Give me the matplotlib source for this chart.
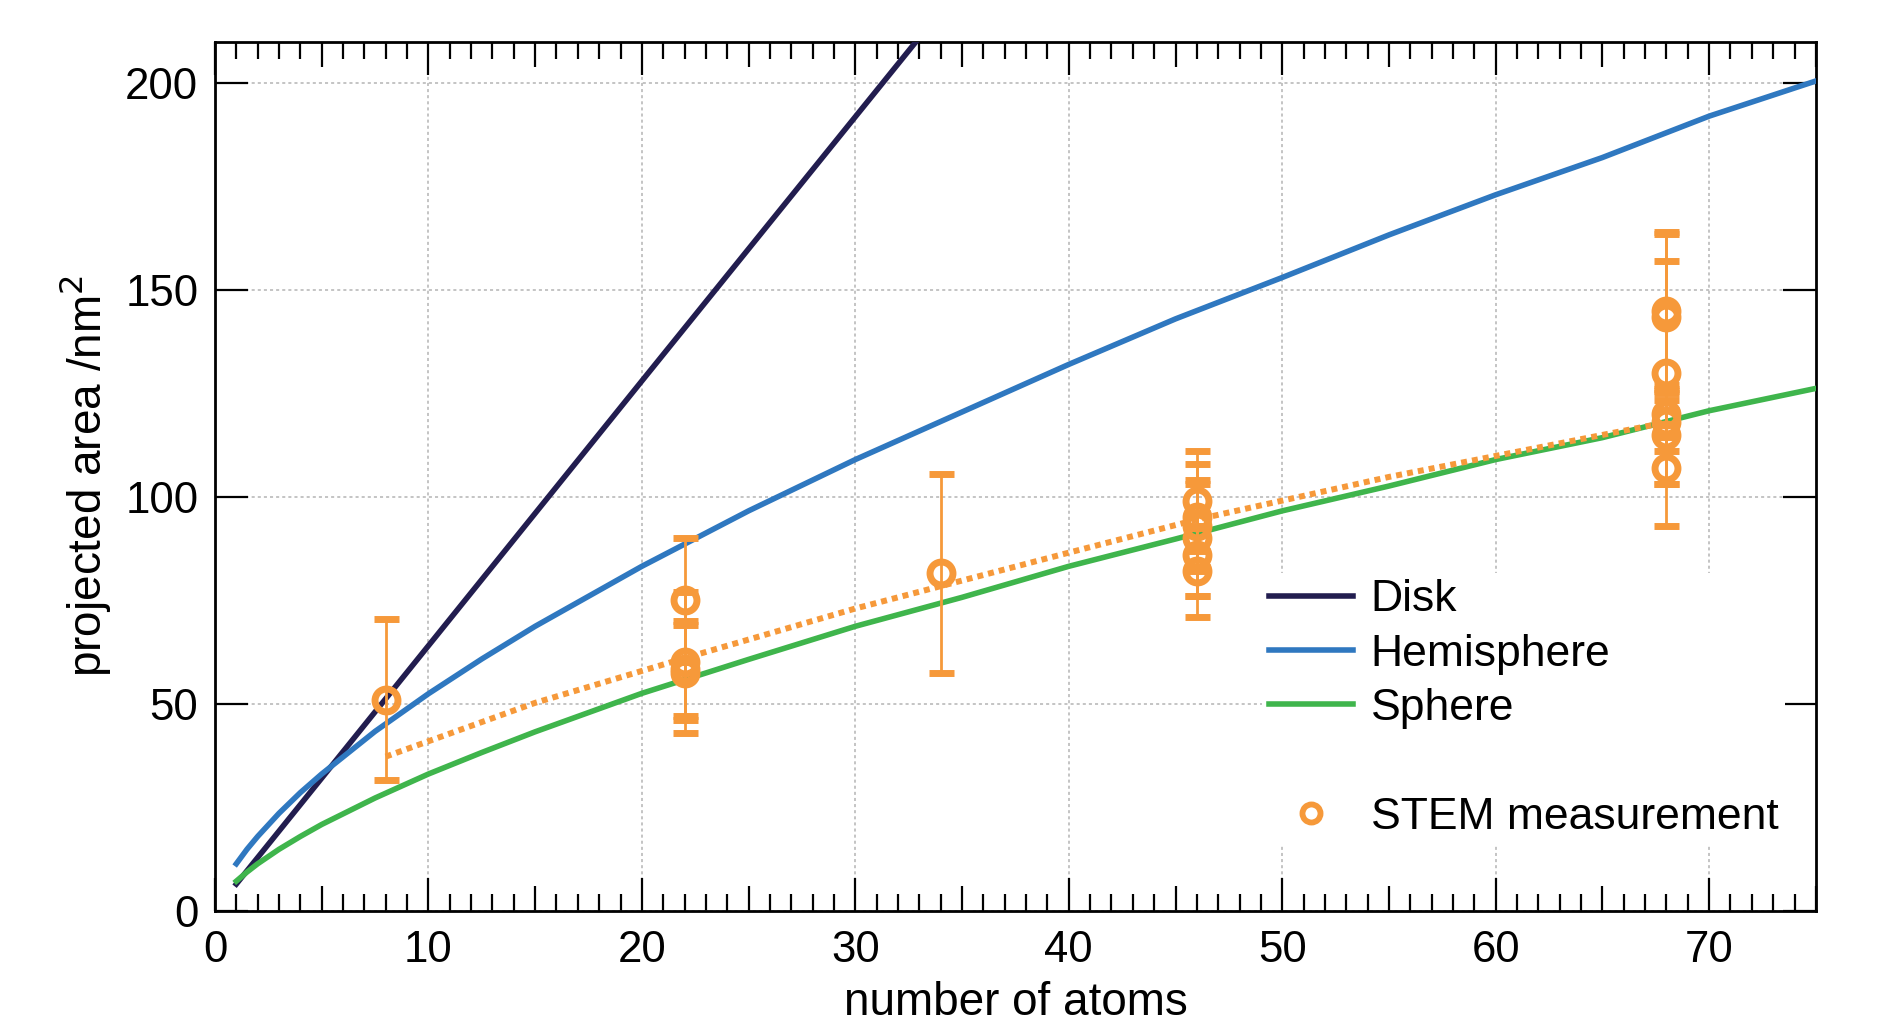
import matplotlib
matplotlib.use("Agg")
import matplotlib.pyplot as plt
from matplotlib.lines import Line2D
from matplotlib.ticker import MultipleLocator, FixedLocator

plt.rcParams['font.family'] = ['Liberation Sans', 'DejaVu Sans']

# colours
c_disk = '#221d4f'
c_hemi = '#2f78c0'
c_sphere = '#3fb54c'
c_stem = '#f6993a'

# model curves
n_disk = [1, 10, 20, 33]
a_disk = [6.4, 64, 128, 211]

n_model = [1, 1.5, 2, 3, 4, 5, 7.5, 10, 12.5, 15, 20, 25, 30, 35, 40, 45,
           50, 55, 60, 65, 70, 75]
a_hemi = [11.3, 14.8, 17.9, 23.5, 28.5, 33.0, 43.3, 52.4, 60.8, 68.7, 83.2,
          96.6, 109, 120.5, 132, 143, 153, 163.3, 173, 182, 192, 200.5]
a_sphere = [7.1, 9.3, 11.3, 14.8, 17.9, 20.8, 27.2, 33.0, 38.2, 43.2, 52.5,
            60.7, 68.7, 75.7, 83.2, 89.8, 96.6, 102.6, 109, 114.3, 120.8, 126.2]

# dotted fit through the measurements
n_fit = [8, 15, 22, 30, 40, 46, 55, 68]
a_fit = [37.2, 50.2, 61, 73, 86.5, 94.5, 104.8, 118]

# STEM measurements
n_stem = [8,
          22, 22, 22, 22,
          34,
          46, 46, 46, 46, 46, 46,
          68, 68, 68, 68, 68, 68, 68]
a_stem = [51,
          75, 60, 58.5, 57.5,
          81.5,
          99, 95, 93, 90, 86, 82,
          145, 143.5, 130, 120, 118, 115, 107]
err_stem = [19.5,
            15, 17, 11.5, 11.5,
            24,
            12, 13, 10, 14, 10, 11,
            19, 20, 27, 5.5, 7, 12, 14]

fig = plt.figure(figsize=(18.79, 10.24), dpi=100)
ax = fig.add_axes([0.1144, 0.1108, 0.852, 0.8485])

ax.plot(n_disk, a_disk, color=c_disk, lw=4.0, label='Disk', zorder=3)
ax.plot(n_model, a_hemi, color=c_hemi, lw=4.0, label='Hemisphere', zorder=3)
ax.plot(n_model, a_sphere, color=c_sphere, lw=4.0, label='Sphere', zorder=3)
ax.plot(n_fit, a_fit, color=c_stem, lw=4.3, ls=(0, (1, 0.85)),
        dash_capstyle='butt', zorder=3)
ax.errorbar(n_stem, a_stem, yerr=err_stem, fmt='o', mfc='none', mec=c_stem,
            mew=5, ms=16.5, ecolor=c_stem, elinewidth=2, capsize=9,
            capthick=2, zorder=4)

ax.set_xlim(0, 75)
ax.set_ylim(0, 210)

# ticks
ax.xaxis.set_major_locator(MultipleLocator(10))
ax.xaxis.set_minor_locator(FixedLocator([i for i in range(76) if i % 5 != 0]))
ax.yaxis.set_major_locator(MultipleLocator(50))
ax.tick_params(axis='both', which='major', direction='in', top=True, right=True,
               length=23.5, width=1.6, labelsize=31.5, pad=12)
ax.tick_params(axis='x', which='minor', direction='in', top=True, bottom=True,
               length=12.5, width=1.6)
ax.tick_params(axis='x', which='major', pad=14)

# medium ticks at the fives
for loc in ('top', 'bottom'):
    sec = ax.secondary_xaxis(loc)
    sec.set_xticks([5, 15, 25, 35, 45, 55, 65, 75])
    sec.tick_params(direction='in', length=18, width=1.6, labelbottom=False,
                    labeltop=False)
    sec.spines[loc].set_visible(False)

for sp in ax.spines.values():
    sp.set_linewidth(2.0)

ax.grid(True, which='major', color='#b4b4b4', ls=(0, (2, 2)), lw=1.1)
ax.set_axisbelow(True)

ax.set_xlabel('number of atoms', fontsize=33, labelpad=7)
ax.set_ylabel('projected area /nm$^2$', fontsize=33, labelpad=9)

handles = [Line2D([], [], color=c_disk, lw=4.0),
           Line2D([], [], color=c_hemi, lw=4.0),
           Line2D([], [], color=c_sphere, lw=4.0),
           Line2D([], [], color='none'),
           Line2D([], [], ls='none', marker='o', mfc='none', mec=c_stem,
                  mew=4.2, ms=13)]
labels = ['Disk', 'Hemisphere', 'Sphere', ' ', 'STEM measurement']
leg = ax.legend(handles, labels, loc='upper left', bbox_to_anchor=(0.654, 0.389),
                fontsize=32, frameon=True, fancybox=False, framealpha=1,
                facecolor='white', edgecolor='none', borderpad=0.15,
                borderaxespad=0, handlelength=1.9, handletextpad=0.4,
                labelspacing=0.3)
leg.set_zorder(5)

fig.savefig('out.png', dpi=100)
